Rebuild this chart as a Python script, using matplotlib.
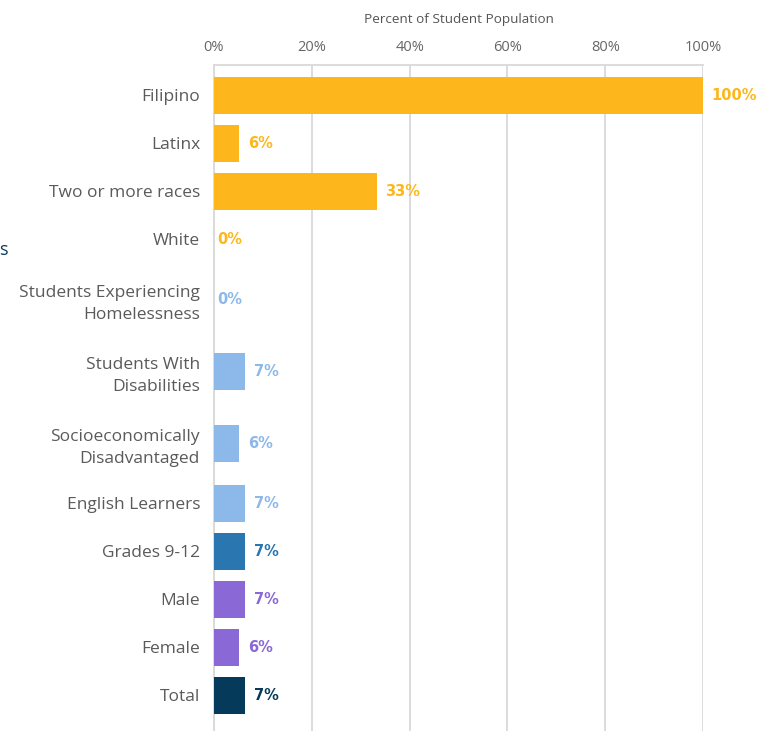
import matplotlib.pyplot as plt
from matplotlib.ticker import FuncFormatter

plt.rcParams['font.family'] = ['Open Sans', 'DejaVu Sans']

categories = ['Filipino', 'Latinx', 'Two or more races', 'White',
              'Students Experiencing\nHomelessness', 'Students With\nDisabilities',
              'Socioeconomically\nDisadvantaged', 'English Learners', 'Grades 9-12',
              'Male', 'Female', 'Total']
values = [100, 5.2, 33.3, 0, 0, 6.4, 5.2, 6.4, 6.4, 6.4, 5.2, 6.4]
value_labels = ['100%', '6%', '33%', '0%', '0%', '7%', '6%', '7%', '7%', '7%', '6%', '7%']
groups = ['race', 'race', 'race', 'race', 'program', 'program', 'program', 'program',
          'grade', 'gender', 'gender', 'total']
group_colors = {'race': '#FDB71D', 'program': '#8DB8EA', 'grade': '#2A76B1',
                'gender': '#8A68D5', 'total': '#053A5A'}
ticks = [0, 20, 40, 60, 80, 100]

# row positions grow with the number of lines in each label
lines = [c.count('\n') + 1 for c in categories]
pos = [95]
for i in range(1, len(categories)):
    pos.append(pos[-1] + 48 + 12 * (lines[i - 1] - 1 + lines[i] - 1))

W, H = 770, 731
fig = plt.figure(figsize=(W / 100, H / 100), dpi=100)
ax = fig.add_axes([214 / W, 0, (703 - 214) / W, (H - 65) / H])

colors = [group_colors[g] for g in groups]
ax.barh(pos, values, height=37, color=colors, zorder=3)
ax.set_ylim(pos[-1] + 36, pos[0] - 30)
ax.set_xlim(0, 100)

for p, v, lab, c in zip(pos, values, value_labels, colors):
    ax.annotate(lab, (v, p), xytext=(6 if v > 0 else 2, 0), textcoords='offset points',
                ha='left', va='center', color=c, fontsize=10.5, fontweight='bold',
                family='DejaVu Sans')

ax.set_yticks(pos)
ax.set_yticklabels(categories, fontsize=12.5, color='#5a5a5a', linespacing=1.5)
ax.tick_params(axis='y', length=0, pad=10)

ax.xaxis.tick_top()
ax.set_xticks(ticks)
ax.xaxis.set_major_formatter(FuncFormatter(lambda x, _: f'{x:.0f}%'))
ax.tick_params(axis='x', length=0, pad=7.5, labelsize=10.5, labelcolor='#666666')
ax.xaxis.set_label_position('top')
ax.set_xlabel('Percent of Student Population', fontsize=9.7, color='#555555', labelpad=12)

ax.grid(axis='x', color='#d9d9d9', linewidth=1.3, zorder=0)
for side in ['right', 'bottom']:
    ax.spines[side].set_visible(False)
for side in ['top', 'left']:
    ax.spines[side].set_color('#d9d9d9')
    ax.spines[side].set_linewidth(1.3)

fig.text(9 / W, 1 - 250 / H, 'Races/Ethnicities', ha='right', va='center',
         fontsize=13, color='#0B3A5B')

fig.savefig('out.png', dpi=100)
